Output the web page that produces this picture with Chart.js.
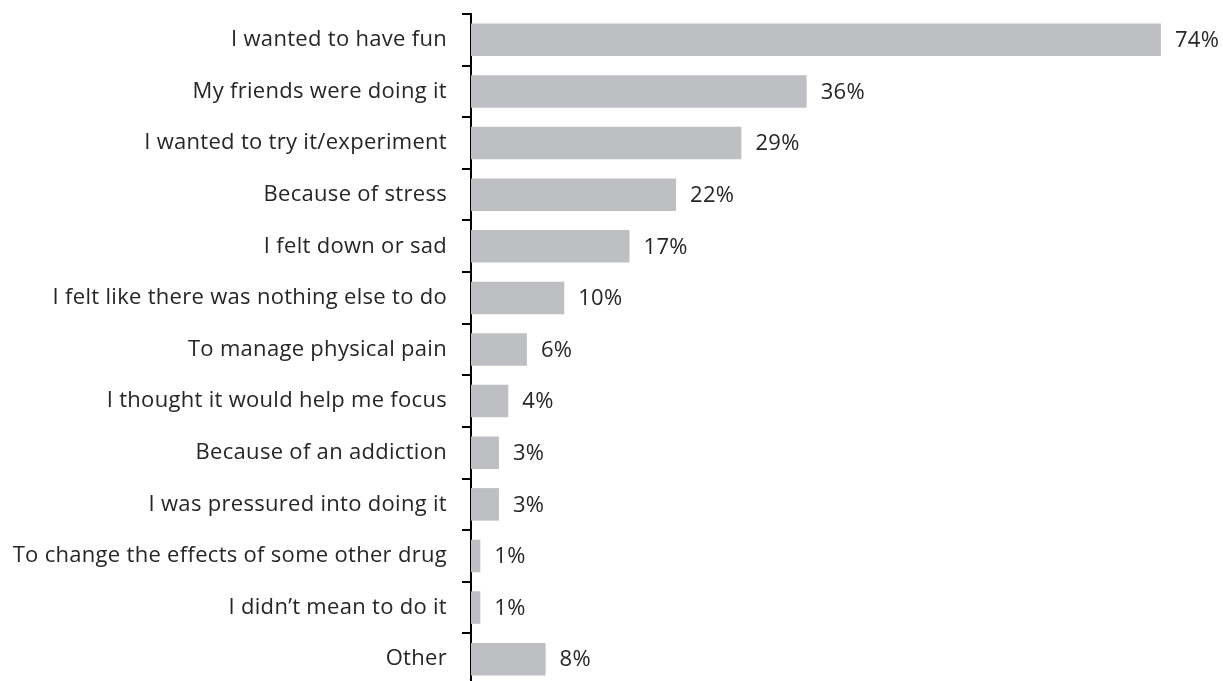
<!DOCTYPE html>
<html>
<head>
<meta charset="utf-8">
<script src="https://cdn.jsdelivr.net/npm/chart.js@4/dist/chart.umd.min.js"></script>
<style>
  html, body { margin: 0; padding: 0; background: #ffffff; overflow: hidden; }
  #wrap { width: 1223px; height: 681px; overflow: hidden; position: relative; }
  #box { width: 1223px; height: 690px; position: absolute; left: 0; top: 0; }
</style>
</head>
<body>
<div id="wrap"><div id="box"><canvas id="c"></canvas></div></div>
<script>
const reasons = [
  "I wanted to have fun",
  "My friends were doing it",
  "I wanted to try it/experiment",
  "Because of stress",
  "I felt down or sad",
  "I felt like there was nothing else to do",
  "To manage physical pain",
  "I thought it would help me focus",
  "Because of an addiction",
  "I was pressured into doing it",
  "To change the effects of some other drug",
  "I didn\u2019t mean to do it",
  "Other"
];
const percentages = [74, 36, 29, 22, 17, 10, 6, 4, 3, 3, 1, 1, 8];

const FONT = "'Open Sans', 'Noto Sans', sans-serif";
const TEXT = "#262626";
const SIZE = 22;
const SPACING = "0.3px";

// Slightly open tracking for all canvas text
const tracking = {
  id: "tracking",
  beforeLayout(chart) { chart.ctx.letterSpacing = SPACING; },
  beforeDraw(chart) { chart.ctx.letterSpacing = SPACING; }
};

// Writes the percentage just past the end of each bar
const valueLabels = {
  id: "valueLabels",
  afterDatasetsDraw(chart) {
    const { ctx } = chart;
    const meta = chart.getDatasetMeta(0);
    ctx.save();
    ctx.letterSpacing = SPACING;
    ctx.font = SIZE + "px " + FONT;
    ctx.fillStyle = TEXT;
    ctx.textAlign = "left";
    ctx.textBaseline = "middle";
    meta.data.forEach((bar, i) => {
      ctx.fillText(percentages[i] + "%", bar.x + 14, bar.y + 1);
    });
    ctx.restore();
  }
};

new Chart(document.getElementById("c"), {
  type: "bar",
  data: {
    labels: reasons,
    datasets: [{
      data: percentages,
      backgroundColor: "#bebfc3",
      borderWidth: 0,
      barPercentage: 0.63,
      categoryPercentage: 1.0
    }]
  },
  options: {
    indexAxis: "y",
    responsive: true,
    maintainAspectRatio: false,
    animation: false,
    layout: { padding: { top: 14, bottom: 5, left: 0, right: 8 } },
    plugins: { legend: { display: false }, tooltip: { enabled: false } },
    scales: {
      x: {
        display: false,
        min: 0,
        max: 79.8
      },
      y: {
        afterFit(scale) {
          scale.width = 471;
          scale.paddingTop = 0;
          scale.paddingBottom = 0;
        },
        border: { display: true, color: "#000000", width: 2 },
        grid: {
          display: true,
          drawOnChartArea: false,
          drawTicks: true,
          tickLength: 9,
          color: "#000000",
          lineWidth: 2,
          offset: true
        },
        ticks: {
          padding: 15,
          color: TEXT,
          font: { family: FONT, size: SIZE }
        }
      }
    }
  },
  plugins: [tracking, valueLabels]
});
</script>
</body>
</html>
